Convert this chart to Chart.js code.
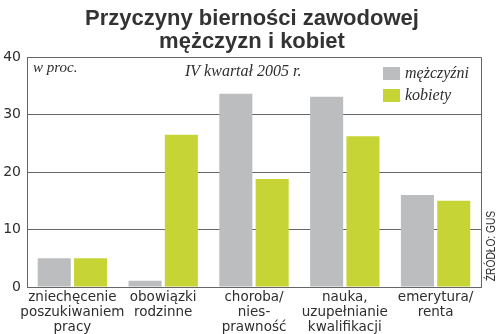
<!DOCTYPE html>
<html>
<head>
<meta charset="utf-8">
<script src="https://cdn.jsdelivr.net/npm/chart.js@4/dist/chart.umd.min.js"></script>
<style>
  html, body { margin: 0; padding: 0; background: #fff; }
  #wrap { width: 500px; height: 334px; }
</style>
</head>
<body>
<div id="wrap"><canvas id="c" width="500" height="334"></canvas></div>
<script>
// Reasons for economic inactivity, Q4 2005, percent
const categories = [
  ['zniechęcenie', 'poszukiwaniem', 'pracy'],
  ['obowiązki', 'rodzinne'],
  ['choroba/', 'nies-', 'prawność'],
  ['nauka,', 'uzupełnianie', 'kwalifikacji'],
  ['emerytura/', 'renta']
];
const men = [5.0, 1.1, 33.6, 33.1, 16.0];
const women = [5.0, 26.5, 18.8, 26.2, 15.0];
const yTicks = [0, 10, 20, 30, 40];
const seriesNames = ['mężczyźni', 'kobiety'];
const titleLines = ['Przyczyny bierności zawodowej', 'mężczyzn i kobiet'];
const unitLabel = 'w proc.';
const periodLabel = 'IV kwartał 2005 r.';
const sourceLabel = 'ŹRÓDŁO: GUS';

const GREY = '#bbbdbe';
const GREEN = '#c6d535';
const INK = '#2e2e2e';
const RULE = '#666';

const decorations = {
  id: 'decorations',
  afterDraw(chart) {
    const ctx = chart.ctx;
    const a = chart.chartArea;
    ctx.save();

    // frame: top and right edges of the plot
    ctx.strokeStyle = RULE;
    ctx.lineWidth = 1;
    ctx.beginPath();
    ctx.moveTo(a.left, a.top + 0.5);
    ctx.lineTo(a.right + 0.5, a.top + 0.5);
    ctx.lineTo(a.right + 0.5, a.bottom);
    ctx.stroke();

    // title
    ctx.fillStyle = '#333';
    ctx.textAlign = 'center';
    ctx.textBaseline = 'alphabetic';
    ctx.font = 'bold 22px "Liberation Sans"';
    ctx.fillText(titleLines[0], 252, 25);
    ctx.fillText(titleLines[1], 252, 48);

    // captions inside plot
    ctx.fillStyle = INK;
    ctx.textAlign = 'left';
    ctx.font = 'italic 15px "Liberation Serif"';
    ctx.fillText(unitLabel, a.left + 6, 72);
    ctx.font = 'italic 16px "Liberation Serif"';
    ctx.fillText(periodLabel, 185, 76);

    // legend
    const ds = chart.data.datasets;
    const legendY = [67, 89];
    ds.forEach((d, i) => {
      ctx.fillStyle = d.backgroundColor;
      ctx.fillRect(383, legendY[i], 17, 13);
      ctx.fillStyle = INK;
      ctx.font = 'italic 16px "Liberation Serif"';
      ctx.fillText(d.label, 405, legendY[i] + 11);
    });

    // source, rotated along the right edge
    ctx.translate(495, 246);
    ctx.rotate(-Math.PI / 2);
    ctx.scale(0.85, 1);
    ctx.textAlign = 'center';
    ctx.font = '12px "Liberation Sans"';
    ctx.fillStyle = INK;
    ctx.fillText(sourceLabel, 0, 0);
    ctx.restore();
  }
};

new Chart(document.getElementById('c'), {
  type: 'bar',
  data: {
    labels: categories,
    datasets: [
      { label: seriesNames[0], data: men, backgroundColor: GREY },
      { label: seriesNames[1], data: women, backgroundColor: GREEN }
    ]
  },
  options: {
    responsive: false,
    animation: false,
    devicePixelRatio: 1,
    layout: { padding: { top: 57, right: 19, left: 0, bottom: 0 } },
    categoryPercentage: 0.8,
    barPercentage: 0.91,
    plugins: {
      legend: { display: false },
      title: { display: false },
      tooltip: { enabled: false }
    },
    scales: {
      x: {
        grid: { display: false, drawTicks: false, tickLength: 0 },
        border: { display: true, color: RULE, width: 1 },
        ticks: {
          color: INK,
          font: { family: 'DejaVu Sans', size: 13.5, lineHeight: 1.12 },
          maxRotation: 0,
          autoSkip: false,
          padding: 3
        },
        afterFit(s) { s.height = 47; }
      },
      y: {
        min: 0,
        max: 40,
        afterBuildTicks(s) { s.ticks = yTicks.map(v => ({ value: v })); },
        grid: { color: RULE, lineWidth: 1, drawTicks: false },
        border: { display: true, color: RULE, width: 1 },
        ticks: {
          color: INK,
          font: { family: 'DejaVu Sans', size: 14 },
          padding: 6
        },
        afterFit(s) { s.width = 27; }
      }
    }
  },
  plugins: [decorations]
});
</script>
</body>
</html>
